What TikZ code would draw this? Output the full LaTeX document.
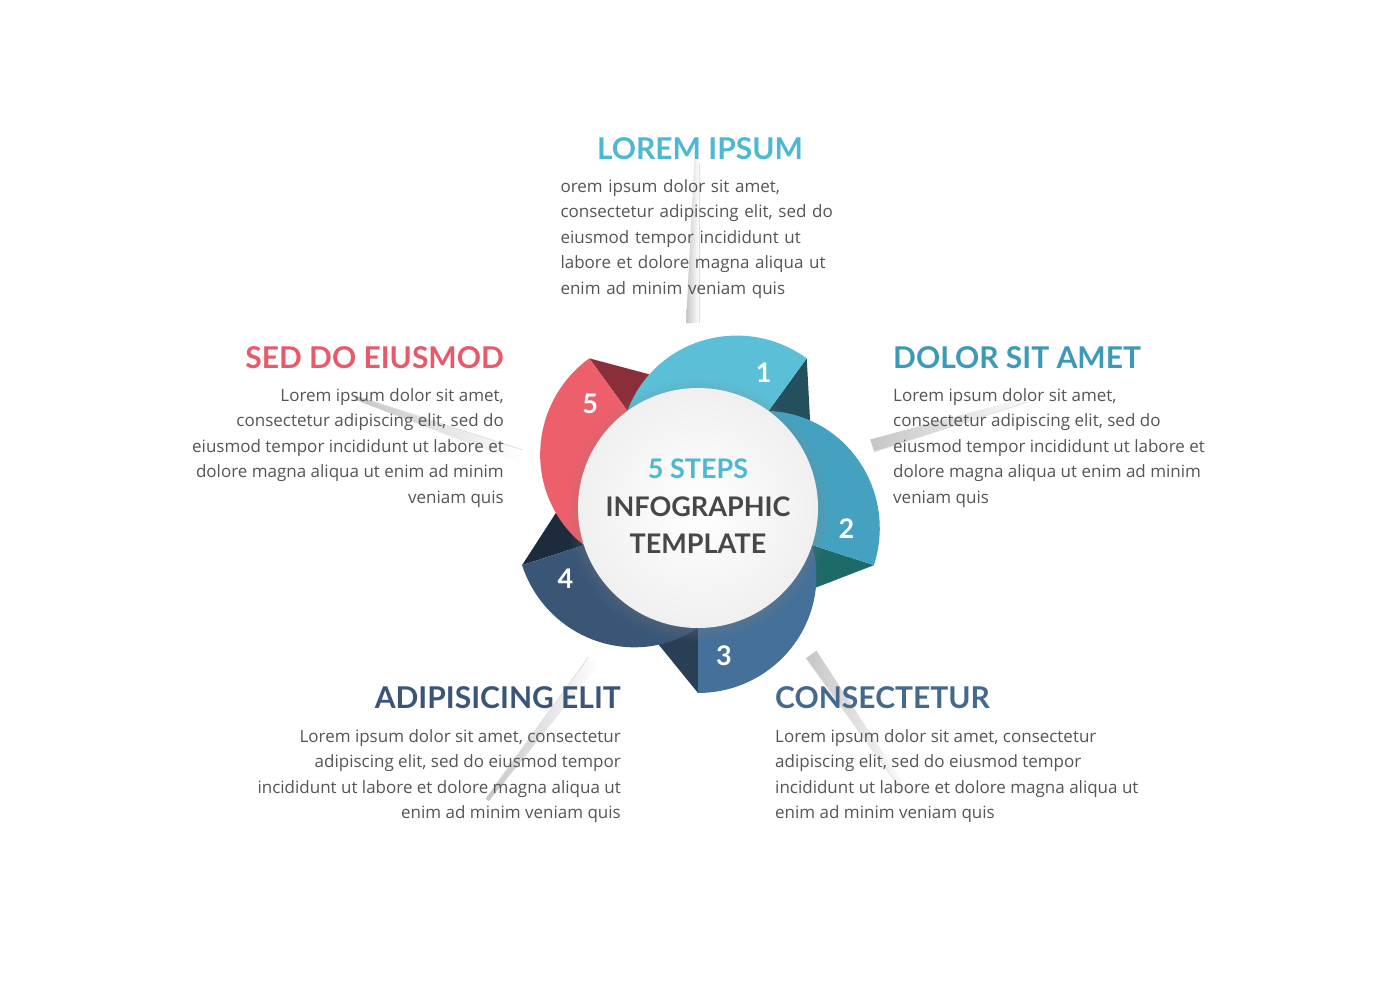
\documentclass[tikz,border=0pt]{standalone}
\usepackage{fontspec}
\setmainfont{Open Sans}
\newfontfamily\lato{Lato}
\usetikzlibrary{shadows}
\definecolor{txtgray}{HTML}{555555}
\definecolor{seg1}{HTML}{5BBFD7}
\definecolor{seg2}{HTML}{44A2C0}
\definecolor{seg3}{HTML}{44709A}
\definecolor{seg4}{HTML}{3A5677}
\definecolor{seg5}{HTML}{EE5F6C}
\definecolor{fold1}{HTML}{244F5C}
\definecolor{fold2}{HTML}{1D6B68}
\definecolor{fold3}{HTML}{283F55}
\definecolor{fold4}{HTML}{1C2C3C}
\definecolor{fold5}{HTML}{8A2F3A}
\definecolor{ttl1}{HTML}{4DB8D2}
\definecolor{ttl2}{HTML}{3C9AB9}
\definecolor{ttl3}{HTML}{44698C}
\definecolor{ttl4}{HTML}{3A5576}
\definecolor{ttl5}{HTML}{E8596A}
\tikzset{
  title/.style={font=\lato\bfseries\fontsize{30}{32}\selectfont, inner sep=0pt, anchor=base},
  body/.style={font=\fontsize{17}{25.6}\selectfont, text=txtgray, inner sep=0pt, anchor=north},
  num/.style={font=\lato\bfseries\fontsize{27}{28}\selectfont, text=white},
}
\def\rin{120}
\def\rtip{185}

\begin{document}
\begin{tikzpicture}[x=1pt,y=-1pt]
  \fill[white] (0,0) rectangle (1400,980);
  \useasboundingbox (0,0) rectangle (1400,980);
  \begin{scope}[shift={(698,508)},yscale=-1]
    % shadow rays
    \foreach \a in {54,-18,-90,-162,126} {
      \begin{scope}[rotate=\a]
        \shade[left color=gray!45, right color=white] (185,-1) -- (360,-1) -- (360,3) -- (185,12) -- cycle;
        \draw[gray!25, line width=0.8pt] (185,-1) -- (345,-1);
      \end{scope}
    }
    % folds
    \foreach \a/\d in {54/fold1,-18/fold2,-90/fold3,-162/fold4,126/fold5} {
      \fill[\d] (\a:\rtip) -- ({\a-16}:{\rin+65*sin(20)}) -- (\a:{\rin-4}) -- cycle;
    }
    % segments
    \foreach \a/\c/\n in {54/seg1/1,-18/seg2/2,-90/seg3/3,-162/seg4/4,126/seg5/5} {
      \fill[\c] plot[domain=0:1,samples=40,variable=\s] ({\a+72-72*\s}:{\rin+65*sin(90*\s)})
        -- (\a:{\rin-10}) arc[start angle=\a, end angle=\a+72, radius=\rin-10] -- cycle;
      \node[num] (n\n) at ({\a+10}:150) {\n};
    }
    % centre disc
    \shade[inner color=white, outer color=gray!12, circular drop shadow={shadow xshift=0pt, shadow yshift=-2pt, opacity=0.35}] (0,0) circle (\rin);
  \end{scope}
  % centre text
  \node[title, text=ttl1, font=\lato\bfseries\fontsize{27}{28}\selectfont] (steps) at (698,478) {5 STEPS};
  \node[title, text=black!72, font=\lato\bfseries\fontsize{27}{28}\selectfont] (info) at (698,516) {INFOGRAPHIC};
  \node[title, text=black!72, font=\lato\bfseries\fontsize{27}{28}\selectfont] (tmpl) at (698,553) {TEMPLATE};
  % titles
  \node[title, text=ttl1] (t1) at (700,159) {LOREM IPSUM};
  \node[title, text=ttl2, anchor=base west] (t2) at (893,368) {DOLOR SIT AMET};
  \node[title, text=ttl3, anchor=base west] (t3) at (775,708) {CONSECTETUR};
  \node[title, text=ttl4, anchor=base east] (t4) at (621,708) {ADIPISICING ELIT};
  \node[title, text=ttl5, anchor=base east] (t5) at (504,368) {SED DO EIUSMOD};
  % texts
  \node[body, text width=279pt] (b1) at (700,179) {\leftskip=0pt plus 1fil\rightskip=0pt plus -1fil\parfillskip=0pt plus 2fil
    Lorem ipsum dolor sit amet,\linebreak consectetur adipiscing elit, sed do\linebreak eiusmod tempor incididunt ut\linebreak labore et dolore magna aliqua ut\linebreak enim ad minim veniam quis};
  \node[body, anchor=north west, align=left] (b2) at (893,388) {Lorem ipsum dolor sit amet,\\consectetur adipiscing elit, sed do\\eiusmod tempor incididunt ut labore et\\dolore magna aliqua ut enim ad minim\\veniam quis};
  \node[body, anchor=north west, align=left] (b3) at (775,729) {Lorem ipsum dolor sit amet, consectetur\\adipiscing elit, sed do eiusmod tempor\\incididunt ut labore et dolore magna aliqua ut\\enim ad minim veniam quis};
  \node[body, anchor=north east, align=right] (b4) at (621,729) {Lorem ipsum dolor sit amet, consectetur\\adipiscing elit, sed do eiusmod tempor\\incididunt ut labore et dolore magna aliqua ut\\enim ad minim veniam quis};
  \node[body, anchor=north east, align=right] (b5) at (504,388) {Lorem ipsum dolor sit amet,\\consectetur adipiscing elit, sed do\\eiusmod tempor incididunt ut labore et\\dolore magna aliqua ut enim ad minim\\veniam quis};
\end{tikzpicture}
\end{document}
